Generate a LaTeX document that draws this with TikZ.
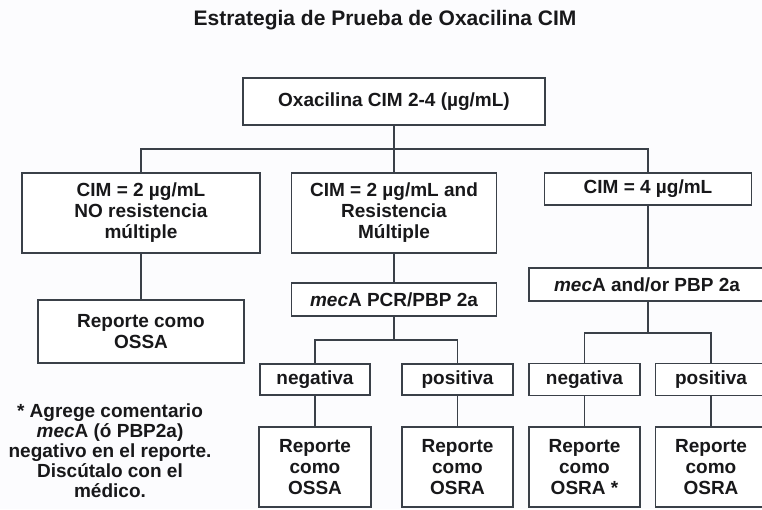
\documentclass[tikz,border=0pt]{standalone}
\usepackage{fontspec}
\setmainfont{Liberation Sans}
\definecolor{lc}{RGB}{58,64,72}
\definecolor{tc}{RGB}{24,24,26}
\definecolor{bgc}{RGB}{252,252,254}
\begin{document}
\begin{tikzpicture}[x=1pt,y=-1pt,
  box/.style={draw=lc, line width=1.8pt, fill=white, inner sep=0pt, align=center,
    font=\bfseries\fontsize{19}{21}\selectfont, text=tc},
  wire/.style={draw=lc, line width=1.8pt}]
\useasboundingbox (0,0) rectangle (762,509);
\fill[bgc] (0,0) rectangle (762,509);

\node[anchor=base, font=\bfseries\fontsize{21}{24}\selectfont, text=tc] (title) at (385,25) {Estrategia de Prueba de Oxacilina CIM};

% level 0
\node[box, minimum width=302pt, minimum height=47pt] (top) at (394,101.5) {Oxacilina CIM 2-4 (µg/mL)};

% level 1
\node[box, minimum width=238pt, minimum height=80pt] (b1) at (141,213) {CIM = 2 µg/mL\\NO resistencia\\múltiple};
\node[box, minimum width=205pt, minimum height=80pt] (b2) at (394,213) {CIM = 2 µg/mL and\\Resistencia\\Múltiple};
\node[box, minimum width=207pt, minimum height=32pt] (b3) at (648,189) {CIM = 4 µg/mL};

% level 2
\node[box, minimum width=206pt, minimum height=63pt] (ossa) at (141,331.5) {Reporte como\\OSSA};
\node[box, minimum width=205pt, minimum height=33pt] (pcr) at (394,299.5) {\textit{mec}A PCR/PBP 2a};
\node[box, minimum width=236pt, minimum height=33pt] (andor) at (647,284.5) {\textit{mec}A and/or PBP 2a};

% level 3
\node[box, minimum width=110pt, minimum height=31pt] (neg1) at (315,379.5) {negativa};
\node[box, minimum width=111pt, minimum height=31pt] (pos1) at (457.5,379.5) {positiva};
\node[box, minimum width=111pt, minimum height=32pt] (neg2) at (584.5,379.5) {negativa};
\node[box, minimum width=111pt, minimum height=32pt] (pos2) at (711,379.5) {positiva};

% level 4
\node[box, minimum width=112pt, minimum height=80pt] (r1) at (315,467) {Reporte\\como\\OSSA};
\node[box, minimum width=111pt, minimum height=80pt] (r2) at (457.5,467) {Reporte\\como\\OSRA};
\node[box, minimum width=111pt, minimum height=80pt] (r3) at (584.5,467) {Reporte\\como\\OSRA *};
\node[box, minimum width=111pt, minimum height=80pt] (r4) at (711,467) {Reporte\\como\\OSRA};

% footnote
\node[align=center, font=\bfseries\fontsize{19}{20}\selectfont, text=tc] (note) at (110,451) {* Agrege comentario\\\textit{mec}A (ó PBP2a)\\negativo en el reporte.\\Discútalo con el\\médico.};

% connectors
\coordinate (bus0) at (394,149);
\coordinate (bus1) at (394,340);
\coordinate (bus2) at (648,333);
\draw[wire] (top.south) -- (bus0);
\draw[wire] (b1.north) |- (bus0) -| (b3.north);
\draw[wire] (bus0) -- (b2.north);
\draw[wire] (b1.south) -- (ossa.north);
\draw[wire] (b2.south) -- (pcr.north);
\draw[wire] (b3.south) -- (andor.north -| b3.south);
\draw[wire] (pcr.south) -- (bus1);
\draw[wire] (neg1.north) |- (bus1) -| (pos1.north);
\draw[wire] (andor.south -| bus2) -- (bus2);
\draw[wire] (neg2.north) |- (bus2) -| (pos2.north);
\draw[wire] (neg1.south) -- (r1.north);
\draw[wire] (pos1.south) -- (r2.north);
\draw[wire] (neg2.south) -- (r3.north);
\draw[wire] (pos2.south) -- (r4.north);
\end{tikzpicture}
\end{document}
